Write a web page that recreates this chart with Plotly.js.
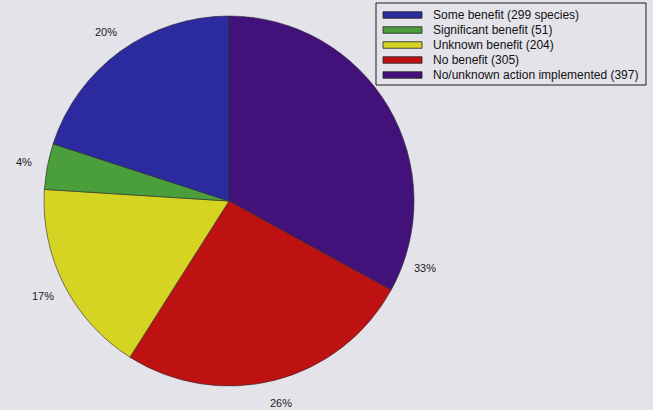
<!DOCTYPE html>
<html><head><meta charset="utf-8">
<script src="https://cdn.plot.ly/plotly-3.0.1.min.js"></script>
<style>html,body{margin:0;padding:0;background:#e5e3ea;}#chart{width:653px;height:410px;}</style>
</head><body><div id="chart"></div>
<script>
// Data (legend order)
const labels = ["Some benefit (299 species)", "Significant benefit (51)", "Unknown benefit (204)", "No benefit (305)", "No/unknown action implemented (397)"];
const percents = [20, 4, 17, 26, 33];
const colors = ["#2b2a9e", "#4a9e3c", "#d6d422", "#be1212", "#42127a"];

// Geometry / style (not data)
const W = 653, H = 410;
const CX = 229, CY = 201, R = 185;
const FONT = "Liberation Sans, Arial, sans-serif";
const LABEL_R = 209;
const labelAngleOverride = {4: {angle: 109, r: 207}}; // label moved away from the legend in the original

// pie drawn clockwise from 12 o'clock in reversed order
const order = labels.map((_, i) => labels.length - 1 - i);
const trace = {
  type: "pie",
  labels: order.map(i => labels[i]),
  values: order.map(i => percents[i]),
  marker: {colors: order.map(i => colors[i]), line: {color: "#2a2a2a", width: 0.6}},
  sort: false,
  direction: "clockwise",
  rotation: 0,
  textinfo: "none",
  hoverinfo: "label+value",
  showlegend: false,
  domain: {x: [(CX - R) / W, (CX + R) / W], y: [1 - (CY + R) / H, 1 - (CY - R) / H]}
};

// percent labels at slice mid-angles
const total = percents.reduce((a, b) => a + b, 0);
const annotations = [];
let cum = 0;
order.forEach(i => {
  const mid = (cum + percents[i] / 2) / total * 360;
  cum += percents[i];
  const o = labelAngleOverride[i];
  const ang = (o ? o.angle : mid) * Math.PI / 180;
  const r = o ? o.r : LABEL_R;
  const px = CX + r * Math.sin(ang), py = CY - r * Math.cos(ang);
  annotations.push({
    xref: "paper", yref: "paper", x: px / W, y: 1 - py / H,
    xanchor: "center", yanchor: "middle", showarrow: false, borderpad: 0,
    text: percents[i] + "%", font: {family: FONT, size: 11, color: "#1a1a1a"}
  });
});

// custom legend (compact, like the original)
const LG = {x0: 376, x1: 646, y0: 3, y1: 85, row0: 15, dy: 15, sx0: 383, sx1: 422, sh: 6.5, tx: 432};
const shapes = [{
  type: "rect", xref: "paper", yref: "paper",
  x0: LG.x0 / W, x1: LG.x1 / W, y0: 1 - LG.y1 / H, y1: 1 - LG.y0 / H,
  line: {color: "#1a1a1a", width: 1}, fillcolor: "#e5e3ea", layer: "above"
}];
labels.forEach((lab, i) => {
  const yc = LG.row0 + i * LG.dy;
  shapes.push({
    type: "rect", xref: "paper", yref: "paper",
    x0: LG.sx0 / W, x1: LG.sx1 / W, y0: 1 - (yc + LG.sh / 2) / H, y1: 1 - (yc - LG.sh / 2) / H,
    line: {color: "#222", width: 0.8}, fillcolor: colors[i], layer: "above"
  });
  annotations.push({
    xref: "paper", yref: "paper", x: LG.tx / W, y: 1 - yc / H,
    xanchor: "left", yanchor: "middle", showarrow: false, borderpad: 0,
    text: lab, font: {family: FONT, size: 12, color: "#111"}
  });
});

const layout = {
  width: W, height: H,
  margin: {l: 0, r: 0, t: 0, b: 0},
  paper_bgcolor: "#e5e3ea",
  plot_bgcolor: "#e5e3ea",
  showlegend: false,
  shapes: shapes,
  annotations: annotations
};
Plotly.newPlot("chart", [trace], layout, {displayModeBar: false, staticPlot: true});
</script></body></html>
